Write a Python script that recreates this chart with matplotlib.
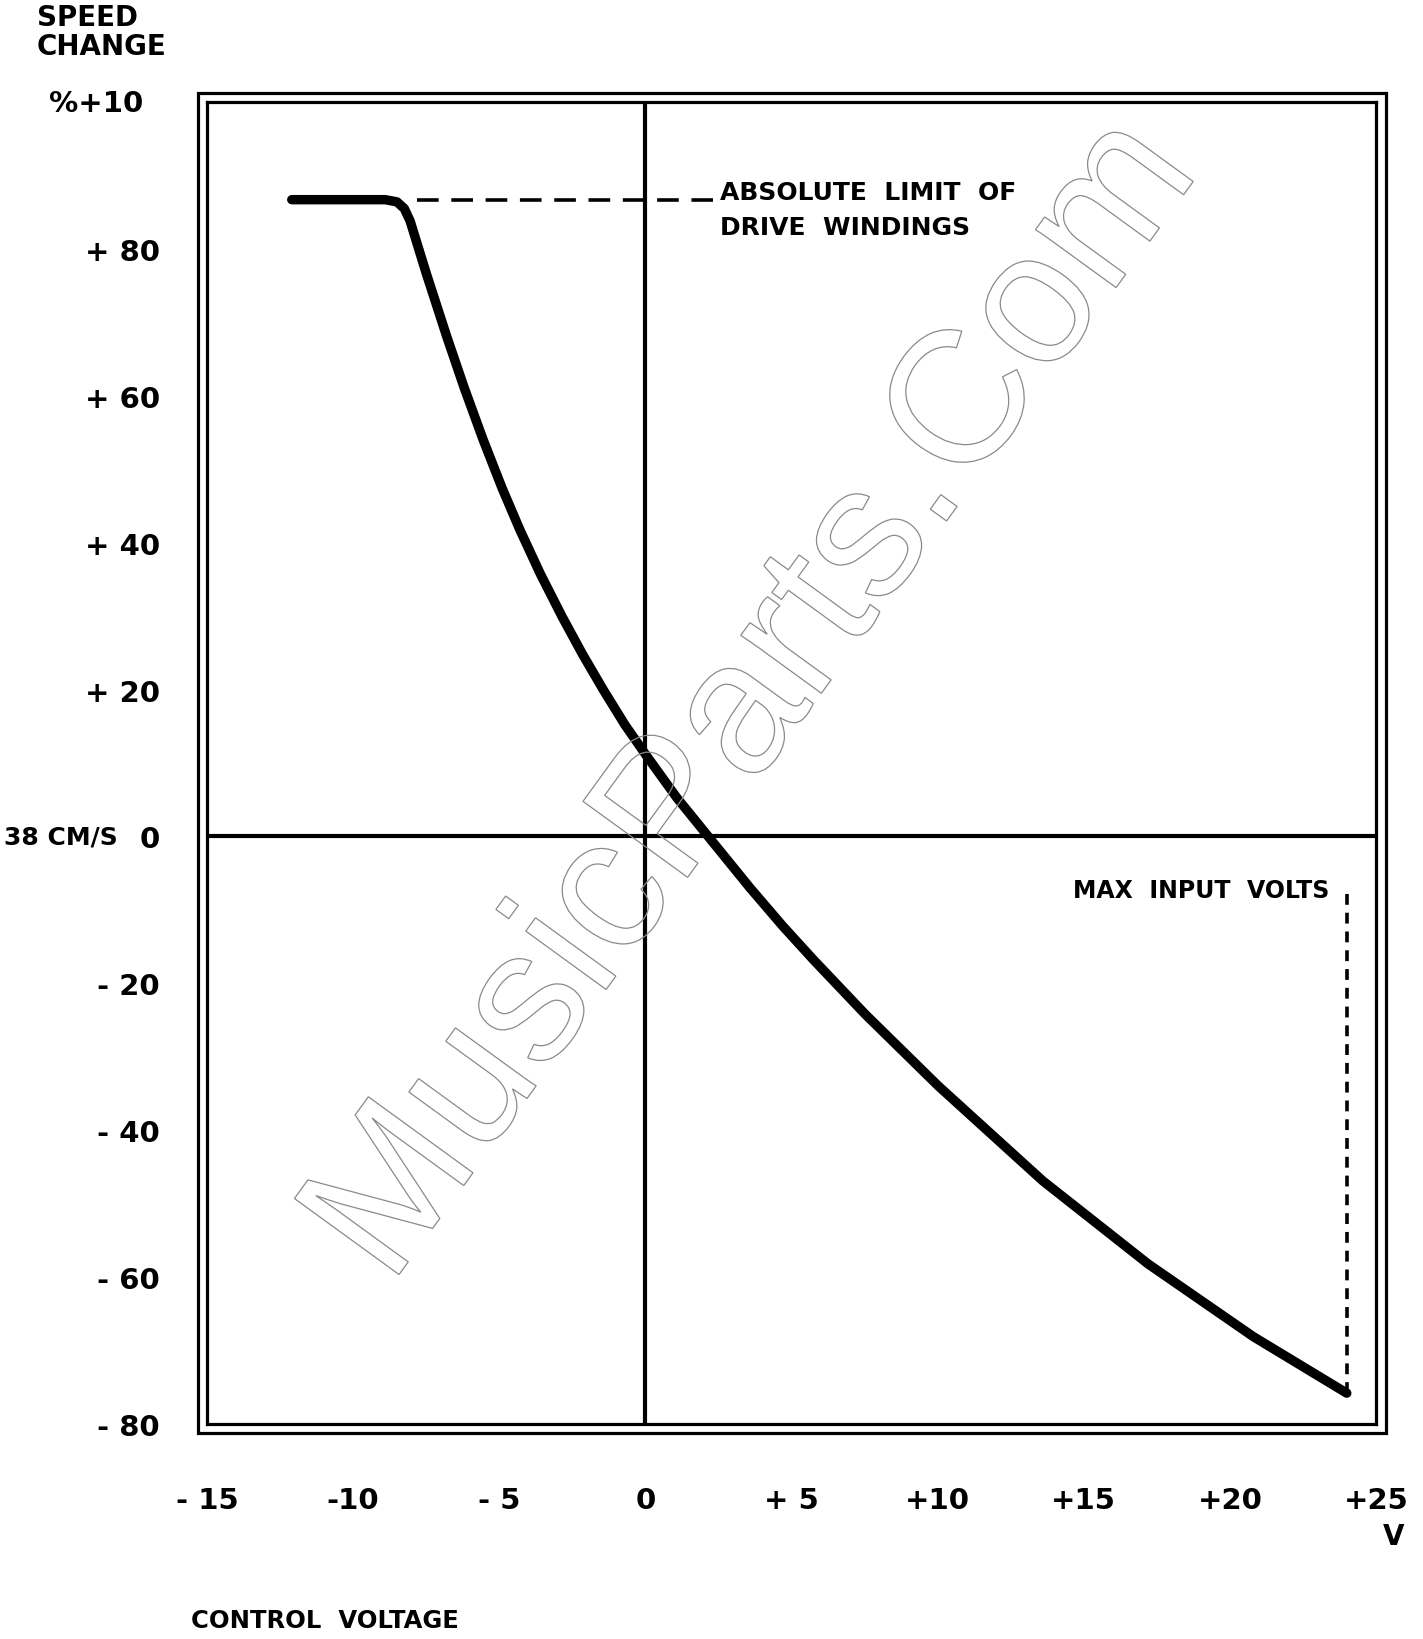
import matplotlib
matplotlib.use("Agg")
import matplotlib.pyplot as plt
from matplotlib.patches import Rectangle, PathPatch
from matplotlib.textpath import TextPath
from matplotlib.font_manager import FontProperties
from matplotlib.transforms import Affine2D

# ---- data ----
control_volts = [-12.1, -8.9, -8.5, -8.25, -8.05, -7.88, -7.5, -6.8, -6.2, -5.55, -4.9, -4.3,
                 -3.6, -2.86, -2.15, -1.43, -0.7, 0.0, 1.07, 2.15, 3.58, 4.7, 5.73, 7.52,
                 10.03, 13.6, 17.2, 20.8, 24.0]
speed_change = [86.7, 86.7, 86.4, 85.5, 83.8, 81.6, 76.7, 68.1, 61.1, 54.0, 47.4, 41.8,
                35.8, 30.0, 24.8, 19.9, 15.2, 11.2, 5.3, 0.0, -7.0, -12.2, -16.7, -24.2,
                -34.0, -46.9, -58.2, -68.1, -75.8]
limit_level = 86.7
limit_x = [-7.8, 2.3]
max_input_volts = 24.0
max_input_y = [-75.8, -7.6]

x_ticks = [-15, -10, -5, 0, 5, 10, 15, 20, 25]
x_tick_labels = ["- 15", "-10", "- 5", "0", "+ 5", "+10", "+15", "+20", "+25"]
y_ticks = [-80, -60, -40, -20, 0, 20, 40, 60, 80]
y_tick_labels = ["- 80", "- 60", "- 40", "- 20", "0", "+ 20", "+ 40", "+ 60", "+ 80"]

W, H = 1423, 1640
fig = plt.figure(figsize=(W / 100, H / 100), dpi=100)
fig.patch.set_facecolor("white")

L, R, T, B = 207, 1376, 103, 1425
ax = fig.add_axes([L / W, 1 - B / H, (R - L) / W, (B - T) / H])
ax.set_xlim(-15, 25)
ax.set_ylim(-80, 100)
for s in ax.spines.values():
    s.set_linewidth(2.3)
    s.set_color("black")

# outer frame
fig.add_artist(Rectangle((198 / W, 1 - 1434 / H), (1386 - 198) / W, (1434 - 94) / H,
                         transform=fig.transFigure, fill=False, lw=2.3, ec="black"))

bold = dict(fontfamily="DejaVu Sans", fontweight="bold", color="black")

ax.set_xticks(x_ticks, labels=x_tick_labels)
ax.set_yticks(y_ticks, labels=y_tick_labels)
ax.tick_params(axis="both", length=0)
ax.tick_params(axis="x", pad=45)
ax.tick_params(axis="y", pad=34)
for lab in ax.get_xticklabels() + ax.get_yticklabels():
    lab.set_fontsize(21)
    lab.set_fontweight("bold")
    lab.set_fontfamily("DejaVu Sans")

# zero lines
ax.axhline(0, color="black", lw=3.0, zorder=2)
ax.axvline(0, color="black", lw=3.0, zorder=2)

# watermark outline text
fp = FontProperties(family="Liberation Sans")
tp = TextPath((0, 0), "MusicParts.Com", size=1.88, prop=fp)
tr = Affine2D().rotate_deg(54).translate(3.9, 3.52) + fig.dpi_scale_trans
fig.add_artist(PathPatch(tp, transform=tr, fill=False, ec="#8a8a8a", lw=0.9, zorder=1))

# main curve
ax.plot(control_volts, speed_change, color="black", lw=6.8, solid_capstyle="round",
        solid_joinstyle="round", zorder=4)

# limit dashed lines
ax.plot(limit_x, [limit_level, limit_level], color="black", lw=2.6,
        dashes=(6, 3.5), zorder=3)
ax.plot([max_input_volts, max_input_volts], max_input_y, color="black", lw=2.6,
        dashes=(3, 2.2), zorder=3)

# annotations
ax.text(2.55, 87.8, "ABSOLUTE  LIMIT  OF", fontsize=18, ha="left", va="center", **bold)
ax.text(2.55, 83.0, "DRIVE  WINDINGS", fontsize=18, ha="left", va="center", **bold)
ax.text(23.4, -7.35, "MAX  INPUT  VOLTS", fontsize=17, ha="right", va="center", **bold)

ytr = ax.get_yaxis_transform()
ax.annotate("38 CM/S", xy=(0, 0), xycoords=ytr, xytext=(-64, 0), textcoords="offset points",
            ha="right", va="center", fontsize=18, **bold)
ax.annotate("%+10", xy=(0, 100), xycoords=ytr, xytext=(-46, -1), textcoords="offset points",
            ha="right", va="center", fontsize=21, **bold)

fig.text(37 / W, 1 - 4 / H, "SPEED\nCHANGE", ha="left", va="top", fontsize=20,
         linespacing=1.05, **bold)
fig.text(1394 / W, 1 - 1537 / H, "V", ha="center", va="center", fontsize=20, **bold)
fig.text(191 / W, 1 - 1621 / H, "CONTROL  VOLTAGE", ha="left", va="center", fontsize=17.5, **bold)

fig.savefig("out.png", dpi=100, facecolor="white")
